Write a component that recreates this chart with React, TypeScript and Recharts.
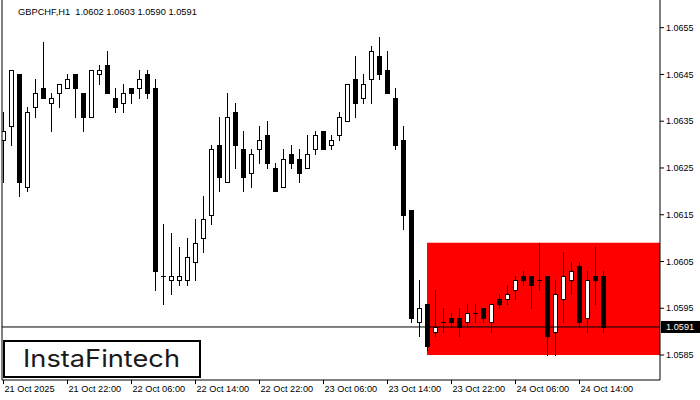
import React from "react";
import { ComposedChart, Bar, XAxis, YAxis, ReferenceLine, ReferenceArea } from "recharts";

// GBPCHF H1, 21 Oct 14:00 .. 24 Oct 17:00 (76 hourly candles)
const opens = [
  1.0631, 1.0634, 1.0645, 1.0621, 1.0638, 1.0642, 1.0639, 1.0641, 1.0642, 1.0645,
  1.0641, 1.0636, 1.0645, 1.0647, 1.064, 1.0639, 1.0642, 1.0642, 1.0645, 1.0642,
  1.0602, 1.0601, 1.0601, 1.0601, 1.0605, 1.061, 1.0615, 1.063, 1.0622, 1.0637,
  1.0629, 1.0624, 1.0629, 1.0632, 1.0625, 1.0621, 1.0628, 1.0627, 1.0625, 1.0629,
  1.0633, 1.063, 1.0632, 1.0635, 1.0644, 1.064, 1.0644, 1.0649, 1.0646, 1.064,
  1.0631, 1.0616, 1.0592, 1.0596, 1.059, 1.0592, 1.0593, 1.0593, 1.0592, 1.0594,
  1.0595, 1.0592, 1.0597, 1.0597, 1.0599, 1.0602, 1.0602, 1.0601, 1.0602, 1.059,
  1.0597, 1.0601, 1.0604, 1.0593, 1.0602, 1.0602,
];
const highs = [
  1.0637, 1.0646, 1.0645, 1.0638, 1.0644, 1.0652, 1.0641, 1.0643, 1.0645, 1.0645,
  1.0641, 1.0646, 1.0647, 1.065, 1.0642, 1.0643, 1.0642, 1.0646, 1.0646, 1.0644,
  1.0613, 1.0611, 1.0608, 1.061, 1.0614, 1.0619, 1.063, 1.0636, 1.0641, 1.0639,
  1.0633, 1.0629, 1.0634, 1.0635, 1.0626, 1.0629, 1.063, 1.0629, 1.0632, 1.0633,
  1.0633, 1.0632, 1.0637, 1.0643, 1.0649, 1.0645, 1.0651, 1.0653, 1.065, 1.0642,
  1.0634, 1.0616, 1.0601, 1.0596, 1.0599, 1.0595, 1.0594, 1.0595, 1.0596, 1.0596,
  1.0595, 1.0596, 1.0598, 1.06, 1.0602, 1.0603, 1.0602, 1.0609, 1.0602, 1.0601,
  1.0607, 1.0605, 1.0605, 1.0603, 1.0608, 1.0603,
];
const lows = [
  1.0622, 1.063, 1.0619, 1.062, 1.0636, 1.064, 1.0633, 1.0638, 1.0642, 1.0636,
  1.0633, 1.0636, 1.0643, 1.0641, 1.0637, 1.0637, 1.0639, 1.064, 1.064, 1.0599,
  1.0596, 1.0598, 1.06, 1.06, 1.0601, 1.0607, 1.0613, 1.062, 1.0622, 1.0625,
  1.062, 1.0621, 1.0626, 1.0625, 1.062, 1.0621, 1.0625, 1.0622, 1.0625, 1.0628,
  1.0629, 1.0629, 1.0631, 1.0635, 1.0636, 1.0639, 1.0639, 1.0644, 1.0641, 1.0629,
  1.0612, 1.0592, 1.0589, 1.0586, 1.0589, 1.059, 1.0591, 1.0589, 1.0591, 1.0592,
  1.0592, 1.059, 1.0595, 1.0596, 1.0597, 1.06, 1.0595, 1.0599, 1.0585, 1.0585,
  1.0592, 1.0598, 1.0591, 1.059, 1.0596, 1.059,
];
const closes = [
  1.0633, 1.0646, 1.0622, 1.0637, 1.0641, 1.064, 1.064, 1.0643, 1.0644, 1.0642,
  1.0636, 1.0646, 1.0646, 1.0641, 1.0638, 1.0641, 1.0641, 1.0644, 1.0641, 1.0603,
  1.0602, 1.0602, 1.0602, 1.0606, 1.0609, 1.0614, 1.0629, 1.0623, 1.0636, 1.063,
  1.0623, 1.0628, 1.0631, 1.0626, 1.062, 1.0627, 1.0626, 1.0624, 1.0628, 1.0632,
  1.0629, 1.0631, 1.0636, 1.0643, 1.0639, 1.0643, 1.065, 1.0645, 1.0641, 1.063,
  1.0615, 1.0593, 1.0595, 1.0587, 1.0591, 1.0592, 1.0592, 1.0591, 1.0594, 1.0594,
  1.0593, 1.0596, 1.0596, 1.0598, 1.0601, 1.0601, 1.06, 1.0601, 1.0589, 1.0598,
  1.0602, 1.0603, 1.0592, 1.0601, 1.0601, 1.0591,
];

const tickIdx = [0, 8, 16, 24, 32, 40, 48, 56, 64, 72];
const tickLabels = [
  "21 Oct 2025", "21 Oct 22:00", "22 Oct 06:00", "22 Oct 14:00", "22 Oct 22:00",
  "23 Oct 06:00", "23 Oct 14:00", "23 Oct 22:00", "24 Oct 06:00", "24 Oct 14:00",
];
const priceTicks = [1.0585, 1.0595, 1.0605, 1.0615, 1.0625, 1.0635, 1.0645, 1.0655];

const title = "GBPCHF,H1  1.0602 1.0603 1.0590 1.0591";
const lastPrice = 1.0591;
const zoneStart = 52.94;
const zoneLow = 1.0585;
const zoneHigh = 1.0609;

const xMin = -0.1875;
const xMax = 82.0625;
const yMin = 1.057966;
const yMax = 1.066092;

const rows = opens.map((o, i) => ({
  idx: i,
  open: o,
  high: highs[i],
  low: lows[i],
  close: closes[i],
  range: [lows[i], highs[i]],
}));

const FONT = "'Liberation Sans', Arial, sans-serif";

const Candle = (props: any) => {
  const { x, y, width, height, payload } = props;
  if (x == null || y == null || !payload) return null;
  const top = Math.min(y, y + height);
  const bot = Math.max(y, y + height);
  const { open, close, high, low } = payload;
  const span = high - low;
  const py = (v: number) => (span > 0 ? top + ((high - v) / span) * (bot - top) : top);
  const cx = Math.round(x + width / 2) + 0.5;
  const yo = py(open);
  const yc = py(close);
  const bTop = Math.round(Math.min(yo, yc));
  const bBot = Math.round(Math.max(yo, yc));
  let body;
  if (close === open) {
    body = <line x1={cx - 2.5} x2={cx + 2.5} y1={bTop + 0.5} y2={bTop + 0.5} stroke="#000" strokeWidth={1} />;
  } else if (close > open) {
    body = (
      <rect x={cx - 2} y={bTop + 0.5} width={4} height={Math.max(1, bBot - bTop)} fill="#fff" stroke="#000" strokeWidth={1} />
    );
  } else {
    body = <rect x={cx - 2.5} y={bTop} width={5} height={Math.max(1, bBot - bTop + 1)} fill="#000" />;
  }
  return (
    <g>
      <line x1={cx} x2={cx} y1={Math.round(top)} y2={Math.round(bot) + 1} stroke="#000" strokeWidth={1} />
      {body}
    </g>
  );
};

const XTick = (props: any) => {
  const { x, y, payload } = props;
  const k = tickIdx.indexOf(payload.value);
  return (
    <text x={x + 1} y={y + 6} fontSize={9.2} fontFamily={FONT} fill="#000" textAnchor="start">
      {k >= 0 ? tickLabels[k] : ""}
    </text>
  );
};

const PriceLabel = (props: any) => {
  const vb = props.viewBox || {};
  const ly = vb.y ?? 0;
  const rx = (vb.x ?? 0) + (vb.width ?? 0);
  return (
    <g>
      <rect x={rx + 1} y={ly - 6} width={39} height={12} fill="#000" />
      <text x={rx + 6} y={ly + 3.5} fontSize={9.2} fontFamily={FONT} fill="#fff">
        {lastPrice.toFixed(4)}
      </text>
    </g>
  );
};

export default function App() {
  return (
    <div style={{ position: "absolute", left: 0, top: 0, width: 700, height: 400, background: "#fff" }}>
      <ComposedChart width={700} height={400} data={rows} margin={{ top: 0, right: 0, bottom: 0, left: 2 }}>
        <XAxis
          type="number"
          dataKey="idx"
          domain={[xMin, xMax]}
          allowDataOverflow
          ticks={tickIdx}
          interval={0}
          height={20}
          tickSize={4}
          tickMargin={2}
          axisLine={{ stroke: "#000" }}
          tickLine={{ stroke: "#000" }}
          tick={<XTick />}
        />
        <YAxis
          orientation="right"
          type="number"
          domain={[yMin, yMax]}
          allowDataOverflow
          ticks={priceTicks}
          interval={0}
          width={40}
          tickSize={4}
          tickMargin={2}
          axisLine={{ stroke: "#000" }}
          tickLine={{ stroke: "#000" }}
          tick={{ fontSize: 9, fontFamily: FONT, fill: "#000" }}
          tickFormatter={(v: number) => v.toFixed(4)}
        />
        <ReferenceArea
          x1={zoneStart}
          x2={xMax}
          y1={zoneLow}
          y2={zoneHigh}
          fill="#ff0000"
          fillOpacity={1}
          stroke="none"
          ifOverflow="visible"
        />
        <ReferenceLine x={xMin} stroke="#000" strokeWidth={1} />
        <ReferenceLine y={lastPrice} stroke="#000" strokeWidth={1} label={<PriceLabel />} />
        <Bar dataKey="range" barSize={5} shape={<Candle />} isAnimationActive={false} />
      </ComposedChart>
      <svg
        width={700}
        height={400}
        style={{ position: "absolute", left: 0, top: 0, pointerEvents: "none" }}
      >
        <text x={18} y={15} fontSize={9.3} fontFamily={FONT} fill="#000" style={{ whiteSpace: "pre" }}>
          {title}
        </text>
        <rect x={4} y={341} width={196} height={36} fill="#fff" stroke="#000" strokeWidth={2} />
        <text
          x={23}
          y={367}
          fontSize={24}
          fontFamily="Inter, 'Noto Sans', sans-serif"
          fontWeight={400}
          fill="#1a1a1a"
          textLength={157}
          lengthAdjust="spacingAndGlyphs"
        >
          InstaFintech
        </text>
      </svg>
    </div>
  );
}
